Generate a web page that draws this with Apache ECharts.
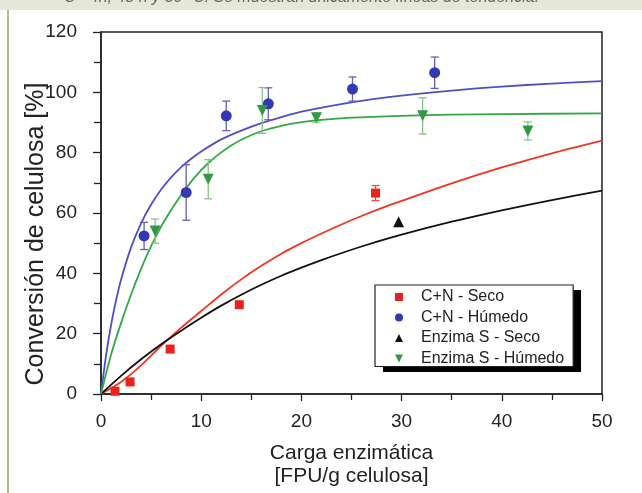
<!DOCTYPE html>
<html>
<head>
<meta charset="utf-8">
<script src="https://cdn.jsdelivr.net/npm/echarts@6/dist/echarts.min.js"></script>
<style>
  html, body { margin: 0; padding: 0; background: #fff; overflow: hidden; }
  #chart { width: 642px; height: 493px; }
</style>
</head>
<body>
<div id="chart"></div>
<script>
// puntos medidos [carga FPU/g, conversión %]
const cnSeco = [[1.4, 0.9], [2.9, 4.0], [6.9, 14.9], [13.8, 29.6], [27.4, 66.6]]
const cnSecoErr = [0, 0, 0, 0, 2.5]
const cnHumedo = [[4.3, 52.4], [8.5, 66.8], [12.5, 92.2], [16.7, 96.2], [25.1, 101.1], [33.3, 106.5]]
const cnHumedoErr = [4.5, 9.2, 4.9, 5.3, 4, 5.2]
const enzSeco = [[29.7, 57.1]]
const enzHumedo = [[5.4, 54], [10.7, 71.2], [16.1, 94], [21.5, 91.6], [32.1, 92.2], [42.6, 87.2]]
const enzHumedoErr = [4, 6.5, 7.6, 1.5, 6, 3]

// líneas de tendencia
const trendCnSeco = [[0, 0], [2, 4], [4, 9.5], [6, 16], [8, 22], [10, 27.5], [12, 33], [14, 38], [16, 42.5], [18, 46.5], [20, 50], [22, 53.2], [24, 56.2], [26, 59], [28, 61.6], [30, 64], [35, 69.8], [40, 75.1], [45, 79.8], [50, 84]]
const trendCnHumedo = [[0, 0], [0.5, 12.7], [1, 22.8], [1.5, 31], [2, 37.9], [3, 48.6], [4, 56.6], [5, 62.8], [6, 67.8], [7, 71.8], [8, 75.2], [9, 78], [10, 80.4], [12, 84.4], [14, 87.3], [16, 89.8], [18, 91.8], [20, 93.6], [25, 96.7], [30, 98.9], [35, 100.6], [40, 101.9], [45, 102.9], [50, 103.7]]
const trendEnzSeco = [[0, 0], [2, 6], [4, 11.5], [6, 16.5], [8, 21], [10, 25.3], [12, 29.3], [14, 32.9], [16, 36.2], [18, 39.2], [20, 41.9], [22, 44.4], [26, 48.9], [30, 52.8], [35, 57.1], [40, 60.9], [45, 64.3], [50, 67.4]]
const trendEnzHumedo = [[0, 0], [1, 13], [2, 23.5], [3, 33], [4, 41.5], [5, 49], [6, 55.5], [7, 61], [8, 66], [9, 70.4], [10, 74.2], [11, 77.4], [12, 80.1], [13, 82.4], [14, 84.3], [16, 87.1], [18, 88.9], [20, 90.1], [22, 90.9], [25, 91.6], [30, 92.2], [35, 92.6], [40, 92.8], [50, 93]]

const names = ['C+N - Seco', 'C+N - Húmedo', 'Enzima S - Seco', 'Enzima S - Húmedo']
const colors = ['#e8231b', '#3438b4', '#111111', '#2f9a42']
const lineColors = ['#f0351f', '#4f4fc6', '#111111', '#33a843']
const errColors = ['#e0504a', '#6a5fa8', '#111111', '#8fbf88']
const downTri = 'path://M0,0L2,0L1,2Z'
const icons = ['rect', 'circle', 'triangle', downTri]
const legendIcons = ['path://M0,0L1,0L1,1L0,1Z', 'circle', 'path://M1,0L2,2L0,2Z', downTri]
const sizes = [9, 11, 11, 11]
const FONT = 'Liberation Sans'

const chart = echarts.init(document.getElementById('chart'))

function errSeries(points, errs, color) {
  return {
    type: 'custom',
    silent: true,
    z: 3,
    data: points.map((p, i) => [p[0], p[1], errs[i]]),
    renderItem(params, api) {
      const x = api.value(0), y = api.value(1), e = api.value(2)
      if (!e) return
      const top = api.coord([x, y + e])
      const bot = api.coord([x, y - e])
      const w = 4
      const style = { stroke: color, lineWidth: 1.3 }
      return {
        type: 'group',
        children: [
          { type: 'line', shape: { x1: top[0], y1: top[1], x2: bot[0], y2: bot[1] }, style },
          { type: 'line', shape: { x1: top[0] - w, y1: top[1], x2: top[0] + w, y2: top[1] }, style },
          { type: 'line', shape: { x1: bot[0] - w, y1: bot[1], x2: bot[0] + w, y2: bot[1] }, style }
        ]
      }
    }
  }
}

function trendSeries(data, color) {
  return {
    type: 'line',
    data,
    smooth: 0.25,
    symbol: 'none',
    silent: true,
    z: 2,
    lineStyle: { color, width: 1.8 }
  }
}

const pointSets = [cnSeco, cnHumedo, enzSeco, enzHumedo]
const errSets = [cnSecoErr, cnHumedoErr, null, enzHumedoErr]
const trendSets = [trendCnSeco, trendCnHumedo, trendEnzSeco, trendEnzHumedo]

const series = []
trendSets.forEach((t, i) => series.push(trendSeries(t, lineColors[i])))
errSets.forEach((e, i) => { if (e) series.push(errSeries(pointSets[i], e, errColors[i])) })
pointSets.forEach((p, i) => series.push({
  name: names[i],
  type: 'scatter',
  data: p,
  symbol: icons[i],
  symbolSize: sizes[i],
  z: 5,
  itemStyle: { color: colors[i], opacity: 1 }
}))

const axisText = { fontFamily: FONT, fontSize: 19, color: '#222' }

chart.setOption({
  animation: false,
  backgroundColor: '#fff',
  textStyle: { fontFamily: FONT },
  graphic: [
    { type: 'rect', left: 0, top: 0, shape: { width: 642, height: 10 }, style: { fill: '#e5e8d7' }, z: 0 },
    { type: 'rect', left: 7, top: 10, shape: { width: 2, height: 483 }, style: { fill: '#b4b889' }, z: 0 },
    {
      type: 'text', left: 64, top: -10, z: 1,
      style: { text: 'C - 4h, 48 h y 30 °C. Se muestran únicamente líneas de tendencia.', font: 'italic 16px "Liberation Sans"', fill: '#666' }
    },
    // sombra sólida de la leyenda
    { type: 'rect', left: 383, top: 290, shape: { width: 198, height: 82 }, style: { fill: '#000' }, z: 3 }
  ],
  grid: {
    left: 101, top: 32, width: 501, height: 368,
    show: true, borderColor: '#222', borderWidth: 1.5, backgroundColor: 'transparent'
  },
  legend: {
    orient: 'vertical',
    left: 375, top: 285,
    z: 6,
    data: names.map((n, i) => ({ name: n, icon: legendIcons[i] })),
    itemWidth: 8, itemHeight: 8, itemGap: 4.5,
    padding: [4, 9, 0, 20],
    backgroundColor: '#fff',
    borderColor: '#222', borderWidth: 1.2, borderRadius: 0,
    textStyle: { fontFamily: FONT, fontSize: 16, color: '#222', lineHeight: 16, padding: [0, 0, 0, 13] },
    selectedMode: false
  },
  xAxis: {
    type: 'value', min: 0, max: 50, interval: 10,
    name: 'Carga enzimática\n[FPU/g celulosa]',
    nameLocation: 'middle', nameGap: 48, nameMoveOverlap: false,
    nameTextStyle: { fontFamily: FONT, fontSize: 21, color: '#222', lineHeight: 23 },
    axisLine: { onZero: false, lineStyle: { color: '#222', width: 1.5 } },
    axisTick: { inside: false, length: 7, lineStyle: { color: '#222', width: 1.3 } },
    minorTick: { show: true, splitNumber: 2, length: 6, lineStyle: { color: '#222', width: 1.3 } },
    axisLabel: Object.assign({ margin: 18 }, axisText),
    splitLine: { show: false }
  },
  yAxis: {
    type: 'value', min: 0, max: 120, interval: 20,
    name: 'Conversión de celulosa [%]',
    nameLocation: 'middle', nameGap: 52, nameMoveOverlap: false,
    nameTextStyle: { fontFamily: FONT, fontSize: 25, color: '#222', padding: [0, 42, 0, 0] },
    axisLine: { onZero: false, lineStyle: { color: '#222', width: 1.5 } },
    axisTick: { inside: false, length: 8, lineStyle: { color: '#222', width: 1.3 } },
    minorTick: { show: true, splitNumber: 2, length: 7, lineStyle: { color: '#222', width: 1.3 } },
    axisLabel: Object.assign({ margin: 24 }, axisText),
    splitLine: { show: false }
  },
  series
})
</script>
</body>
</html>
